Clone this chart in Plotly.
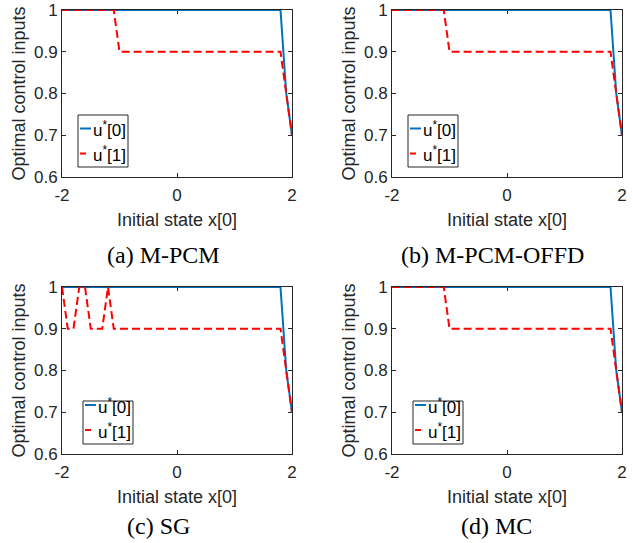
import plotly.graph_objects as go

# ---------------- data ----------------
x_state = [-2.0, -1.9, -1.8, -1.7, -1.6, -1.5, -1.4, -1.3, -1.2, -1.1,
           -1.0, -0.9, -0.8, -0.7, -0.6, -0.5, -0.4, -0.3, -0.2, -0.1,
           0.0, 0.1, 0.2, 0.3, 0.4, 0.5, 0.6, 0.7, 0.8, 0.9,
           1.0, 1.1, 1.2, 1.3, 1.4, 1.5, 1.6, 1.7, 1.8, 1.9, 2.0]

u0_mpcm = [1, 1, 1, 1, 1, 1, 1, 1, 1, 1,
           1, 1, 1, 1, 1, 1, 1, 1, 1, 1,
           1, 1, 1, 1, 1, 1, 1, 1, 1, 1,
           1, 1, 1, 1, 1, 1, 1, 1, 1, 0.8, 0.7]
u1_mpcm = [1, 1, 1, 1, 1, 1, 1, 1, 1, 1,
           0.9, 0.9, 0.9, 0.9, 0.9, 0.9, 0.9, 0.9, 0.9, 0.9,
           0.9, 0.9, 0.9, 0.9, 0.9, 0.9, 0.9, 0.9, 0.9, 0.9,
           0.9, 0.9, 0.9, 0.9, 0.9, 0.9, 0.9, 0.9, 0.9, 0.8, 0.7]

u0_offd = [1, 1, 1, 1, 1, 1, 1, 1, 1, 1,
           1, 1, 1, 1, 1, 1, 1, 1, 1, 1,
           1, 1, 1, 1, 1, 1, 1, 1, 1, 1,
           1, 1, 1, 1, 1, 1, 1, 1, 1, 0.8, 0.7]
u1_offd = [1, 1, 1, 1, 1, 1, 1, 1, 1, 1,
           0.9, 0.9, 0.9, 0.9, 0.9, 0.9, 0.9, 0.9, 0.9, 0.9,
           0.9, 0.9, 0.9, 0.9, 0.9, 0.9, 0.9, 0.9, 0.9, 0.9,
           0.9, 0.9, 0.9, 0.9, 0.9, 0.9, 0.9, 0.9, 0.9, 0.8, 0.7]

u0_sg = [1, 1, 1, 1, 1, 1, 1, 1, 1, 1,
         1, 1, 1, 1, 1, 1, 1, 1, 1, 1,
         1, 1, 1, 1, 1, 1, 1, 1, 1, 1,
         1, 1, 1, 1, 1, 1, 1, 1, 1, 0.8, 0.7]
u1_sg = [1, 0.9, 0.9, 1, 1, 0.9, 0.9, 0.9, 1, 0.9,
         0.9, 0.9, 0.9, 0.9, 0.9, 0.9, 0.9, 0.9, 0.9, 0.9,
         0.9, 0.9, 0.9, 0.9, 0.9, 0.9, 0.9, 0.9, 0.9, 0.9,
         0.9, 0.9, 0.9, 0.9, 0.9, 0.9, 0.9, 0.9, 0.9, 0.8, 0.7]

u0_mc = [1, 1, 1, 1, 1, 1, 1, 1, 1, 1,
         1, 1, 1, 1, 1, 1, 1, 1, 1, 1,
         1, 1, 1, 1, 1, 1, 1, 1, 1, 1,
         1, 1, 1, 1, 1, 1, 1, 1, 1, 0.8, 0.7]
u1_mc = [1, 1, 1, 1, 1, 1, 1, 1, 1, 1,
         0.9, 0.9, 0.9, 0.9, 0.9, 0.9, 0.9, 0.9, 0.9, 0.9,
         0.9, 0.9, 0.9, 0.9, 0.9, 0.9, 0.9, 0.9, 0.9, 0.9,
         0.9, 0.9, 0.9, 0.9, 0.9, 0.9, 0.9, 0.9, 0.9, 0.8, 0.7]

captions = ["(a) M-PCM", "(b) M-PCM-OFFD", "(c) SG", "(d) MC"]
series_u0 = [u0_mpcm, u0_offd, u0_sg, u0_mc]
series_u1 = [u1_mpcm, u1_offd, u1_sg, u1_mc]
legend_names = ["u<sup>*</sup>[0]", "u<sup>*</sup>[1]"]

x_tickvals = [-2, 0, 2]
x_ticktext = ["-2", "0", "2"]
y_tickvals = [0.6, 0.7, 0.8, 0.9, 1.0]
y_ticktext = ["0.6", "0.7", "0.8", "0.9", "1"]

x_title = "Initial state x[0]"
y_title = "Optimal control inputs"

# ---------------- layout geometry ----------------
W, H = 633, 543
AX_W, AX_H = 230, 167
ax_left = [62, 392, 62, 392]
ax_top = [10, 10, 287, 287]
cap_x = [164, 492, 158, 496]
cap_y = [255, 255, 526, 526]
# legend box geometry in px relative to axes top-left
leg_geo = [
    dict(x0=16, x1=66, y0=105, y1=157, sx=18, tx=29, ya=118.5, yb=143.5),
    dict(x0=16, x1=66, y0=105, y1=157, sx=18, tx=29, ya=118.5, yb=143.5),
    dict(x0=21, x1=71, y0=114, y1=157, sx=23, tx=34, ya=118.0, yb=143.0),
    dict(x0=21, x1=71, y0=114, y1=157, sx=23, tx=34, ya=118.0, yb=143.0),
]

BLUE = "#0072BD"
RED = "#FF0000"
AXC = "#262626"
SANS = "Liberation Sans, Arial, sans-serif"
SERIF = "Liberation Serif, Times New Roman, serif"

fig = go.Figure()
shapes = []
annotations = []

for i in range(4):
    n = "" if i == 0 else str(i + 1)
    xa, ya = "x" + n, "y" + n
    fig.add_trace(go.Scatter(x=x_state, y=series_u0[i], mode="lines",
                             line=dict(color=BLUE, width=2),
                             name="u*[0]", showlegend=False,
                             xaxis=xa, yaxis=ya, hoverinfo="skip"))
    fig.add_trace(go.Scatter(x=x_state, y=series_u1[i], mode="lines",
                             line=dict(color=RED, width=2, dash="8px,4px"),
                             name="u*[1]", showlegend=False,
                             xaxis=xa, yaxis=ya, hoverinfo="skip"))

    xd = [ax_left[i] / W, (ax_left[i] + AX_W) / W]
    yd = [1 - (ax_top[i] + AX_H) / H, 1 - ax_top[i] / H]
    common = dict(showline=True, linecolor=AXC, linewidth=1, mirror="ticks",
                  ticks="inside", ticklen=4, tickcolor=AXC, tickwidth=1,
                  showgrid=False, zeroline=False, automargin=False,
                  layer="below traces",
                  tickfont=dict(family=SANS, size=17, color=AXC))
    fig.layout["xaxis" + n] = dict(
        domain=xd, range=[-2, 2], tickvals=x_tickvals, ticktext=x_ticktext,
        anchor=ya, ticklabelstandoff=3,
        title=dict(text=x_title, font=dict(family=SANS, size=18, color=AXC),
                   standoff=8),
        **common)
    fig.layout["yaxis" + n] = dict(
        domain=yd, range=[0.6, 1.0], tickvals=y_tickvals, ticktext=y_ticktext,
        anchor=xa,
        title=dict(text=y_title, font=dict(family=SANS, size=18, color=AXC),
                   standoff=3),
        **common)

    # legend (drawn manually to match the compact MATLAB legend)
    g = leg_geo[i]
    xr = xa + " domain"
    yr = ya + " domain"
    fx = lambda p: p / AX_W
    fy = lambda p: 1 - p / AX_H
    shapes.append(dict(type="rect", xref=xr, yref=yr,
                       x0=fx(g["x0"]), x1=fx(g["x1"]),
                       y0=fy(g["y1"]), y1=fy(g["y0"]),
                       line=dict(color=AXC, width=1), fillcolor="white",
                       layer="above"))
    shapes.append(dict(type="line", xref=xr, yref=yr,
                       x0=fx(g["sx"]), x1=fx(g["tx"]),
                       y0=fy(g["ya"]), y1=fy(g["ya"]),
                       line=dict(color=BLUE, width=2)))
    shapes.append(dict(type="line", xref=xr, yref=yr,
                       x0=fx(g["sx"]), x1=fx(g["tx"]),
                       y0=fy(g["yb"]), y1=fy(g["yb"]),
                       line=dict(color=RED, width=2, dash="6px,6px")))
    for name, yy in zip(legend_names, [g["ya"], g["yb"]]):
        annotations.append(dict(text=name, xref=xr, yref=yr,
                                x=fx(g["tx"]), y=fy(yy + 1),
                                xanchor="left", yanchor="middle",
                                showarrow=False,
                                font=dict(family=SANS, size=17, color="black")))

    annotations.append(dict(text=captions[i], xref="paper", yref="paper",
                            x=cap_x[i] / W, y=1 - cap_y[i] / H,
                            xanchor="center", yanchor="middle",
                            showarrow=False,
                            font=dict(family=SERIF, size=24, color="black")))

fig.update_layout(width=W, height=H, autosize=False,
                  margin=dict(l=0, r=0, t=0, b=0),
                  paper_bgcolor="white", plot_bgcolor="white",
                  showlegend=False, shapes=shapes, annotations=annotations)

fig.write_html("out.html",
               config={"displayModeBar": False},
               post_script="document.body.style.margin='0px';"
                           "document.body.style.overflow='hidden';")
